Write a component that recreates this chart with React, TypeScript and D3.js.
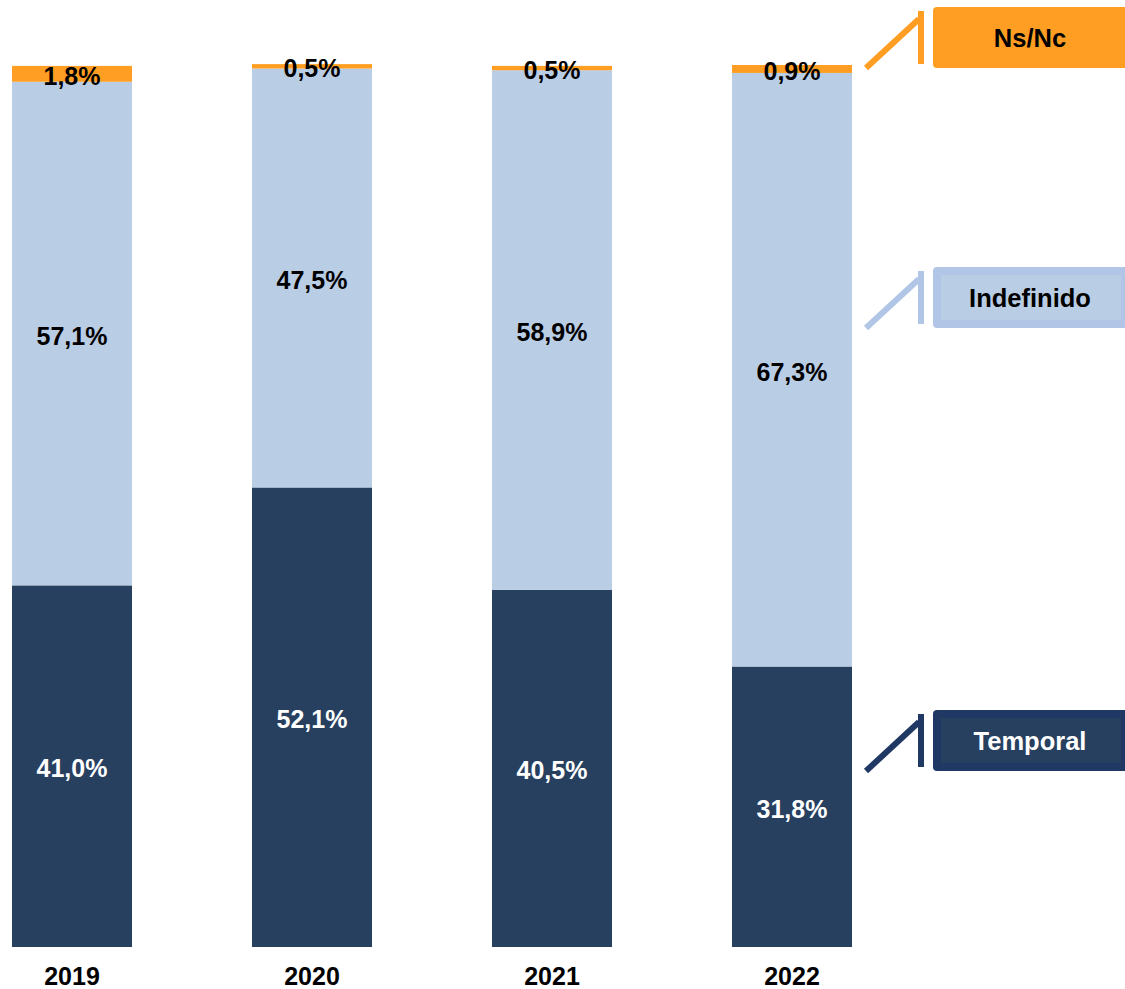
import React from "react";
import * as d3 from "d3";

const years = ["2019", "2020", "2021", "2022"];
const temporal = [41.0, 52.1, 40.5, 31.8];
const indefinido = [57.1, 47.5, 58.9, 67.3];
const nsnc = [1.8, 0.5, 0.5, 0.9];
const seriesNames = ["Temporal", "Indefinido", "Ns/Nc"];

const W = 1125;
const H = 989;

const colors: Record<string, string> = {
  Temporal: "#27405f",
  Indefinido: "#b9cde5",
  "Ns/Nc": "#ff9e22",
};
const legendBorder: Record<string, string> = {
  Temporal: "#1f3864",
  Indefinido: "#b1c6e6",
  "Ns/Nc": "#ff9e22",
};
const labelColor: Record<string, string> = {
  Temporal: "#ffffff",
  Indefinido: "#000000",
  "Ns/Nc": "#000000",
};
const legendTop: Record<string, number> = {
  "Ns/Nc": 7,
  Indefinido: 267,
  Temporal: 710,
};

const fmt = (v: number) => v.toFixed(1).replace(".", ",") + "%";

export default function App() {
  const x = d3.scaleBand<string>().domain(years).range([-48, 912]).paddingInner(0.5).paddingOuter(0.25);
  const y = d3.scaleLinear().domain([0, 100]).range([947, 65]);

  const rows = years.map((yr, i) => ({ year: yr, Temporal: temporal[i], Indefinido: indefinido[i], "Ns/Nc": nsnc[i] }));
  const stack = d3.stack<any>().keys(seriesNames)(rows);

  const font = "'Liberation Sans', Arial, sans-serif";
  const fs = 25;

  return (
    <svg width={W} height={H} style={{ position: "absolute", left: 0, top: 0, background: "#fff" }} fontFamily={font}>
      {stack.map((layer) => (
        <g key={layer.key}>
          {layer.map((d, i) => {
            const x0 = x(years[i]) as number;
            const yTop = y(d[1]);
            const yBot = y(d[0]);
            return (
              <rect key={i} x={x0} y={yTop} width={x.bandwidth()} height={yBot - yTop} fill={colors[layer.key]} />
            );
          })}
        </g>
      ))}
      {stack.map((layer) => (
        <g key={"l" + layer.key}>
          {layer.map((d, i) => {
            const x0 = (x(years[i]) as number) + x.bandwidth() / 2;
            const mid = (y(d[1]) + y(d[0])) / 2;
            const v = d[1] - d[0];
            return (
              <text key={i} x={x0} y={mid + 0.358 * fs + 2} textAnchor="middle" fontSize={fs} fontWeight="bold" fill={labelColor[layer.key]}>
                {fmt(v)}
              </text>
            );
          })}
        </g>
      ))}
      {years.map((yr) => (
        <text key={yr} x={(x(yr) as number) + x.bandwidth() / 2} y={985} textAnchor="middle" fontSize={25} fontWeight="bold" fill="#000">
          {yr}
        </text>
      ))}
      {seriesNames.map((s) => {
        const T = legendTop[s];
        return (
          <g key={"lg" + s}>
            <line x1={866} y1={T + 61} x2={919} y2={T + 12} stroke={legendBorder[s]} strokeWidth={6} />
            <rect x={918} y={T + 4} width={6} height={53} fill={legendBorder[s]} />
            <rect x={933} y={T} width={196} height={61} rx={4} fill={legendBorder[s]} />
            <rect x={941} y={T + 8} width={180} height={45} fill={colors[s]} />
            <text x={1030} y={T + 30.5 + 9} textAnchor="middle" fontSize={25.5} fontWeight="bold" fill={s === "Temporal" ? "#fff" : "#000"}>
              {s}
            </text>
          </g>
        );
      })}
    </svg>
  );
}
